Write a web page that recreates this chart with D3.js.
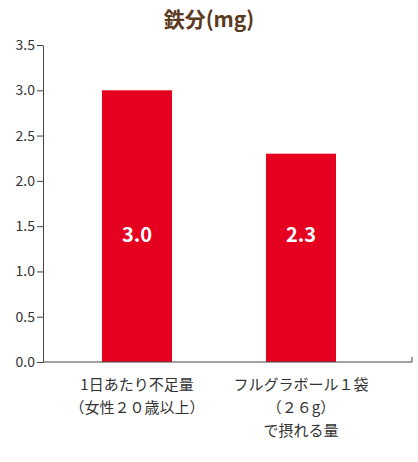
<!DOCTYPE html>
<html><head><meta charset="utf-8">
<script src="https://cdn.jsdelivr.net/npm/d3@7"></script>
<style>body{margin:0;background:#fff}</style></head>
<body><svg id="c" width="418" height="462"></svg>
<script>
const categories = [["1日あたり不足量","（女性２０歳以上）"],["フルグラボール１袋","（２６g）","で摂れる量"]];
const values = [3.0, 2.3];
const valueLabels = ["3.0","2.3"];
const yTicks = [0,0.5,1,1.5,2,2.5,3,3.5];
const title = "鉄分(mg)";

const svg = d3.select("#c");
const font = "'Noto Sans CJK JP','Noto Sans',sans-serif";
const y = d3.scaleLinear().domain([0,3.5]).range([362,45]);
const x = d3.scaleBand().domain(d3.range(values.length)).range([55,383]).paddingInner(0.573).paddingOuter(0.2865);

svg.append("text").attr("x",209).attr("y",27).attr("text-anchor","middle")
  .attr("font-family",font).attr("font-weight","bold").attr("font-size",21).attr("fill","#5b3a1d").text(title);

const ya = svg.append("g").attr("transform","translate(43,0)")
  .call(d3.axisLeft(y).tickValues(yTicks).tickFormat(d3.format(".1f")).tickSize(6).tickSizeOuter(0));
ya.selectAll("path,line").attr("stroke","#444");
ya.selectAll("text").attr("font-family",font).attr("font-size",14).attr("fill","#333").attr("x",-8);

svg.selectAll("rect.bar").data(values).join("rect").attr("class","bar")
  .attr("x",(d,i)=>x(i)).attr("width",x.bandwidth()).attr("y",d=>y(d)).attr("height",d=>y(0)-y(d)).attr("fill","#e50020");

svg.append("line").attr("x1",43).attr("x2",412).attr("y1",y(0)).attr("y2",y(0)).attr("stroke","#444");
svg.append("line").attr("x1",412).attr("x2",412).attr("y1",y(0)-5).attr("y2",y(0)).attr("stroke","#444");

svg.selectAll("text.vl").data(values).join("text").attr("class","vl")
  .attr("x",(d,i)=>x(i)+x.bandwidth()/2).attr("y",242).attr("text-anchor","middle")
  .attr("font-family",font).attr("font-weight","bold").attr("font-size",20).attr("fill","#fff")
  .text((d,i)=>valueLabels[i]);

categories.forEach((lines,i)=>{
  lines.forEach((t,j)=>{
    svg.append("text").attr("x",x(i)+x.bandwidth()/2).attr("y",390+j*23).attr("text-anchor","middle")
      .attr("font-family",font).attr("font-size",15).attr("fill","#333").text(t);
  });
});
</script></body></html>
